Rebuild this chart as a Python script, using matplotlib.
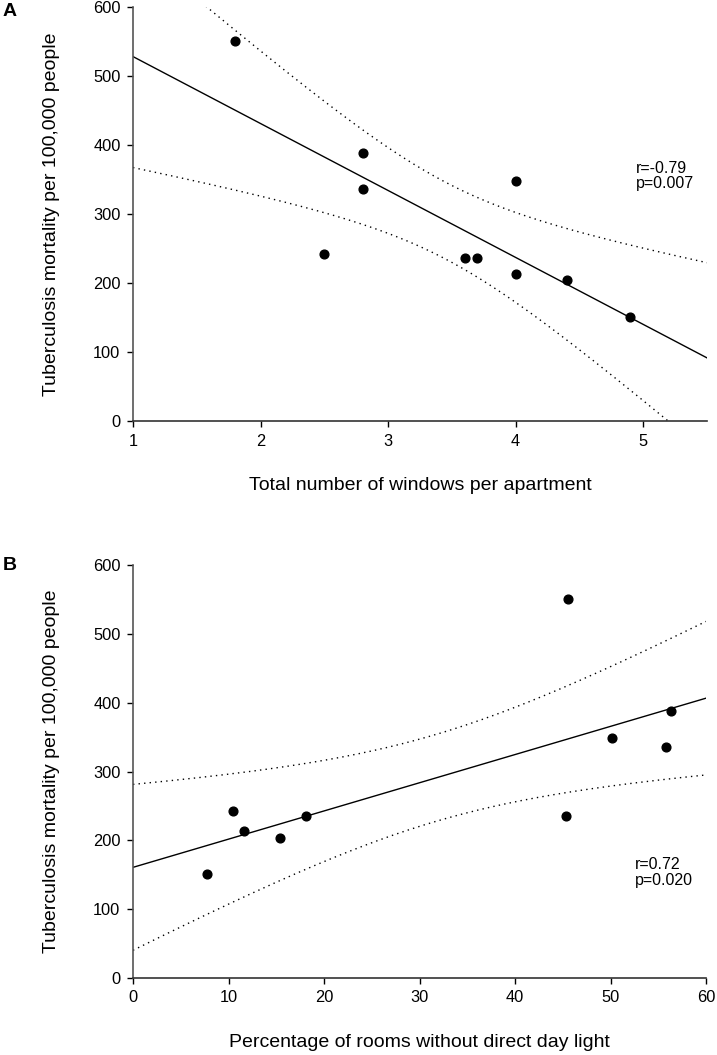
import numpy as np
import matplotlib
matplotlib.use("Agg")
import matplotlib.pyplot as plt

plt.rcParams['font.family'] = ['Liberation Sans', 'DejaVu Sans']

# Panel A data
windows = [1.8, 2.5, 2.8, 2.8, 3.6, 3.7, 4.0, 4.0, 4.4, 4.9]
mortality_a = [550, 242, 388, 336, 236, 236, 348, 213, 204, 151]
# Panel B data
no_daylight = [45.6, 10.5, 56.3, 55.8, 45.3, 18.1, 50.2, 11.6, 15.4, 7.7]
mortality_b = [550, 242, 388, 336, 236, 236, 348, 213, 204, 151]

stats_a = ["r=-0.79", "p=0.007"]
stats_b = ["r=0.72", "p=0.020"]
T_CRIT = 2.306  # t(0.975, df=8)

ylabel = "Tuberculosis mortality per 100,000 people"

fig = plt.figure(figsize=(7.17, 10.55), dpi=100)
axA = fig.add_axes([133/717, (1055-421)/1055, 574/717, 414/1055])
axB = fig.add_axes([133/717, (1055-978)/1055, 573/717, 413/1055])


def draw(ax, x, y, xlim, xticks, xlabel, stats, txy):
    x = np.asarray(x, float)
    y = np.asarray(y, float)
    n = len(x)
    slope, intercept = np.polyfit(x, y, 1)
    xs = np.linspace(xlim[0], xlim[1], 400)
    yhat = intercept + slope * xs
    resid = y - (intercept + slope * x)
    s = np.sqrt(np.sum(resid ** 2) / (n - 2))
    sxx = np.sum((x - x.mean()) ** 2)
    half = T_CRIT * s * np.sqrt(1.0 / n + (xs - x.mean()) ** 2 / sxx)
    ax.plot(xs, yhat, color='black', lw=1.0)
    ax.plot(xs, yhat + half, color='black', lw=1.0, ls=(0, (1, 3)))
    ax.plot(xs, yhat - half, color='black', lw=1.0, ls=(0, (1, 3)))
    ax.plot(x, y, 'o', color='black', markersize=6.3, zorder=5)
    ax.set_xlim(*xlim)
    ax.set_ylim(0, 600)
    ax.set_xticks(xticks)
    ax.set_yticks(range(0, 601, 100))
    for sp in ['top', 'right']:
        ax.spines[sp].set_visible(False)
    ax.spines['left'].set_color('#555555')
    ax.spines['bottom'].set_color('#333333')
    ax.spines['left'].set_linewidth(1.2)
    ax.spines['bottom'].set_linewidth(1.2)
    ax.tick_params(direction='out', length=4, width=1, labelsize=11.8, colors='black', pad=5)
    ax.set_xlabel(xlabel, fontsize=14)
    ax.set_ylabel(ylabel, fontsize=14)
    ax.xaxis.set_label_coords(0.5, -0.135)
    ax.yaxis.set_label_coords(-0.127, 0.5)
    ax.text(txy[0], txy[1], stats[0] + "\n" + stats[1], fontsize=11.5, va='center', ha='left',
            linespacing=1.05)


draw(axA, windows, mortality_a, (1, 5.5), [1, 2, 3, 4, 5],
     "Total number of windows per apartment", stats_a, (4.94, 355))
draw(axB, no_daylight, mortality_b, (0, 60), range(0, 61, 10),
     "Percentage of rooms without direct day light", stats_b, (52.6, 153))

fig.text(3/717, 1 - 11/1055, "A", fontsize=14, fontweight='bold', va='center', ha='left')
fig.text(3/717, 1 - 566/1055, "B", fontsize=14, fontweight='bold', va='center', ha='left')

fig.savefig("out.png", dpi=100)
